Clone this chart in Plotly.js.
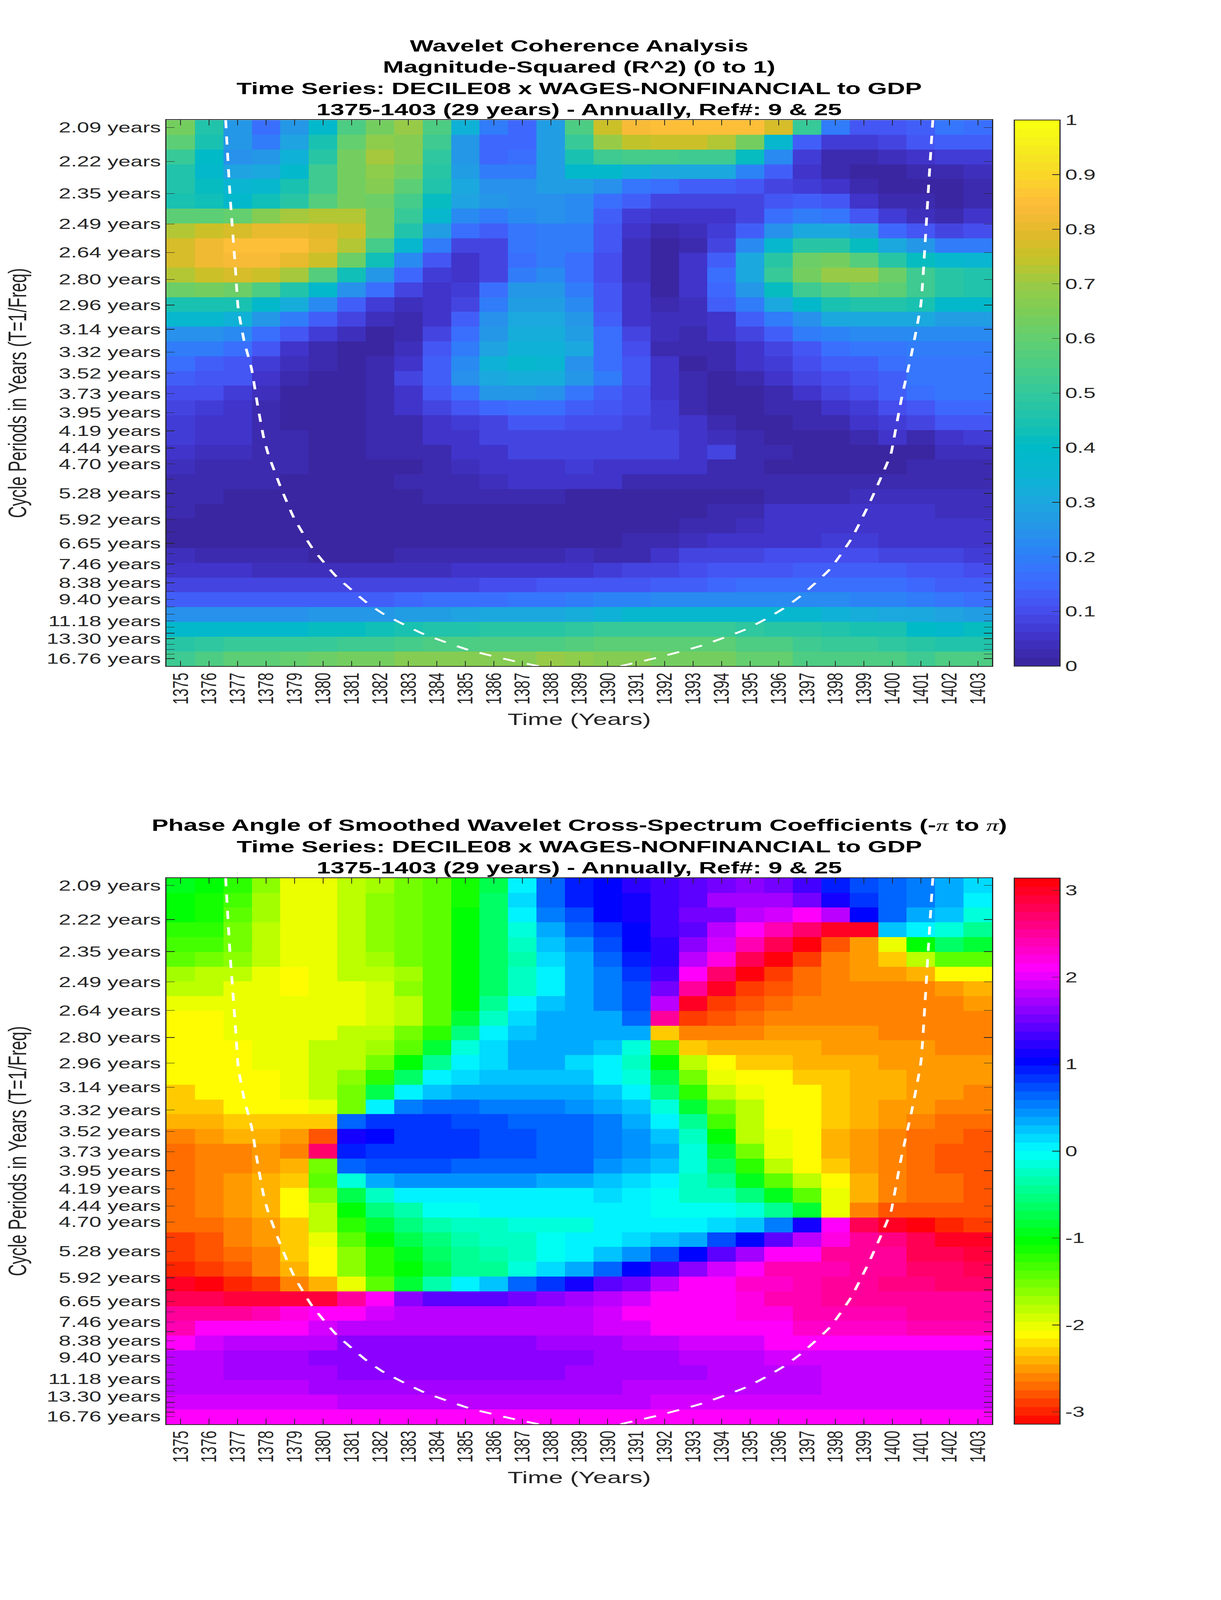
<!DOCTYPE html>
<html>
<head>
<meta charset="utf-8">
<script src="https://cdn.plot.ly/plotly-3.0.1.min.js"></script>
<style>
  html, body { margin: 0; padding: 0; background: #fff; overflow: hidden; }
</style>
</head>
<body>
<div id="chart" style="width:3125px;height:6252px;transform-origin:0 0"></div>
<script>
const years = [1375,1376,1377,1378,1379,1380,1381,1382,1383,1384,1385,1386,1387,1388,1389,1390,1391,1392,1393,1394,1395,1396,1397,1398,1399,1400,1401,1402,1403];

// rows of the heatmaps, 2.09 years at the top, 16.76 years at the bottom
const rowIndex = [0,1,2,3,4,5,6,7,8,9,10,11,12,13,14,15,16,17,18,19,20,21,22,23,24,25,26,27,28,29,30,31,32,33,34,35,36];

// the period ticks do not sit on the row centres, so they are given in row units
const periodTicks = [0,2.31,4.48,6.54,8.47,10.3,12.04,13.68,15.22,16.66,18.04,19.33,20.56,21.72,22.8,23.83,24.79,25.71,26.58,27.4,28.18,28.89,29.58,30.23,30.85,31.42,31.97,32.49,32.99,33.44,33.86,34.27,34.64,35.02,35.36,35.68,35.99];
const periodLabels = ["2.09 years","2.22 years","2.35 years","2.49 years","2.64 years","2.80 years","2.96 years","3.14 years","3.32 years","3.52 years","3.73 years","3.95 years","4.19 years","4.44 years","4.70 years","","5.28 years","","5.92 years","","6.65 years","","7.46 years","","8.38 years","","9.40 years","","","11.18 years","","","13.30 years","","","","16.76 years"];

const coherence = [
  [.64,.46,.25,.17,.25,.38,.55,.64,.69,.56,.33,.19,.15,.28,.56,.76,.83,.85,.85,.85,.85,.78,.5,.2,.11,.11,.14,.18,.17],
  [.58,.44,.25,.2,.29,.44,.6,.68,.66,.52,.26,.15,.15,.28,.5,.7,.74,.76,.76,.73,.64,.36,.13,.07,.07,.09,.11,.13,.13],
  [.5,.4,.24,.25,.33,.48,.64,.71,.67,.49,.26,.15,.17,.28,.44,.52,.54,.54,.52,.52,.41,.22,.07,.03,.03,.04,.05,.07,.07],
  [.46,.39,.29,.31,.38,.52,.64,.68,.64,.47,.27,.19,.2,.28,.38,.39,.34,.31,.31,.3,.21,.13,.05,.02,.01,.01,.02,.03,.04],
  [.46,.42,.35,.37,.45,.53,.64,.66,.58,.46,.3,.24,.24,.27,.28,.24,.18,.16,.14,.14,.12,.09,.07,.05,.02,.01,.01,.01,.02],
  [.44,.43,.39,.43,.47,.57,.63,.61,.54,.41,.29,.25,.24,.24,.22,.17,.13,.09,.08,.08,.09,.11,.13,.11,.05,.03,.02,.01,.02],
  [.58,.58,.6,.66,.71,.73,.72,.64,.51,.36,.23,.19,.23,.24,.22,.14,.07,.05,.05,.05,.09,.17,.2,.18,.12,.07,.04,.03,.05],
  [.73,.76,.77,.8,.8,.79,.75,.64,.46,.28,.16,.13,.18,.2,.19,.11,.06,.03,.04,.07,.14,.24,.31,.31,.27,.15,.11,.09,.1],
  [.78,.82,.85,.85,.85,.81,.73,.54,.36,.2,.09,.08,.18,.2,.19,.11,.04,0,.03,.09,.22,.37,.47,.48,.42,.31,.25,.2,.2],
  [.78,.82,.84,.84,.8,.75,.61,.43,.23,.11,.06,.09,.16,.2,.17,.1,.04,0,.05,.14,.3,.47,.62,.64,.57,.48,.41,.37,.35],
  [.73,.76,.78,.76,.71,.57,.43,.25,.15,.07,.05,.08,.2,.22,.17,.1,.04,0,.06,.16,.31,.5,.64,.7,.7,.62,.53,.48,.46],
  [.61,.63,.61,.55,.46,.38,.24,.16,.09,.05,.07,.16,.25,.25,.19,.11,.06,.01,.05,.15,.25,.41,.53,.57,.6,.58,.53,.47,.46],
  [.45,.45,.44,.38,.32,.22,.14,.07,.04,.05,.09,.2,.27,.28,.22,.12,.06,.03,.04,.13,.2,.3,.38,.44,.46,.46,.44,.39,.38],
  [.36,.36,.34,.25,.19,.13,.08,.04,.02,.05,.14,.24,.31,.31,.26,.14,.06,.04,.04,.05,.13,.2,.24,.3,.31,.31,.31,.28,.27],
  [.24,.24,.23,.17,.12,.07,.04,.01,.03,.08,.17,.26,.32,.32,.27,.16,.08,.04,.03,.05,.09,.13,.19,.21,.23,.23,.23,.22,.22],
  [.19,.19,.17,.12,.05,.03,0,0,.04,.11,.19,.29,.34,.34,.3,.16,.1,.03,.02,.02,.05,.09,.12,.16,.18,.18,.19,.19,.19],
  [.16,.14,.12,.07,.04,.02,.01,.02,.06,.13,.23,.33,.37,.35,.24,.17,.11,.05,.01,.02,.05,.07,.1,.13,.13,.16,.18,.18,.18],
  [.14,.12,.11,.06,.02,.01,.01,.03,.08,.14,.24,.3,.32,.32,.25,.19,.11,.06,.02,.01,.03,.05,.08,.1,.12,.14,.18,.18,.18],
  [.1,.1,.07,.04,.01,.01,.01,.03,.06,.12,.17,.25,.25,.24,.18,.14,.1,.06,.03,.01,.01,.03,.05,.08,.1,.13,.17,.18,.18],
  [.09,.07,.05,.03,.01,.01,.01,.03,.05,.08,.12,.15,.17,.17,.13,.11,.1,.07,.03,.01,.01,.03,.03,.06,.07,.1,.12,.15,.15],
  [.07,.06,.05,.03,.01,.01,.01,.02,.03,.06,.07,.09,.11,.11,.1,.1,.09,.07,.05,.02,.01,.01,.03,.03,.05,.07,.09,.11,.11],
  [.07,.05,.05,.03,.02,.01,.01,.02,.02,.05,.06,.08,.09,.09,.09,.09,.09,.08,.06,.04,.03,.01,.01,.01,.02,.05,.03,.05,.07],
  [.05,.04,.04,.03,.02,.01,.01,.02,.02,.03,.05,.06,.08,.08,.08,.09,.09,.08,.06,.08,.03,.02,0,0,0,.01,.01,.04,.04],
  [.04,.03,.03,.03,.02,.01,.01,.01,.01,.03,.04,.05,.06,.06,.07,.06,.06,.05,.05,.03,.02,0,0,0,0,.01,.02,.02,.03],
  [.03,.02,.02,.02,.01,.01,.01,.01,.02,.02,.03,.04,.05,.05,.05,.05,.03,.03,.02,.02,.02,.02,.02,.02,.03,.03,.03,.03,.03],
  [.02,.02,.01,.01,.01,.01,.01,.01,.01,.02,.02,.02,.03,.03,.01,.01,.01,.01,.01,.01,.01,.03,.03,.03,.04,.04,.04,.04,.04],
  [.02,.01,.01,0,0,0,0,0,0,0,0,0,0,0,0,0,0,0,.01,.02,.03,.05,.05,.05,.05,.05,.05,.04,.04],
  [.01,.01,0,0,0,0,0,0,0,0,0,0,0,0,0,0,.01,.01,.02,.02,.04,.05,.05,.06,.06,.06,.06,.05,.05],
  [.01,.01,.01,0,0,0,0,0,0,0,0,0,0,0,.01,.01,.02,.03,.04,.05,.05,.06,.06,.07,.07,.06,.06,.05,.05],
  [.04,.03,.02,.02,.02,.01,.01,.01,.02,.02,.02,.02,.03,.03,.04,.03,.03,.05,.08,.08,.09,.1,.1,.1,.1,.09,.09,.09,.07],
  [.05,.05,.05,.04,.04,.04,.04,.04,.04,.04,.05,.05,.06,.06,.06,.07,.08,.09,.1,.11,.12,.12,.13,.13,.13,.13,.12,.11,.1],
  [.08,.08,.08,.08,.08,.08,.08,.08,.08,.09,.09,.1,.1,.11,.12,.12,.12,.13,.14,.15,.16,.17,.16,.16,.16,.16,.15,.14,.13],
  [.13,.13,.13,.13,.13,.13,.13,.14,.15,.16,.17,.17,.18,.18,.19,.21,.21,.22,.22,.22,.22,.22,.22,.22,.21,.21,.2,.18,.17],
  [.24,.24,.24,.24,.24,.25,.25,.26,.27,.28,.29,.3,.3,.31,.32,.33,.37,.37,.37,.37,.37,.37,.37,.33,.32,.31,.3,.29,.27],
  [.39,.39,.39,.39,.39,.41,.41,.43,.44,.46,.46,.47,.47,.48,.49,.5,.5,.5,.5,.5,.49,.47,.47,.46,.44,.44,.4,.39,.41],
  [.47,.49,.5,.5,.51,.51,.53,.53,.54,.55,.56,.56,.56,.56,.57,.58,.58,.58,.58,.58,.55,.55,.53,.51,.5,.49,.48,.46,.46],
  [.53,.55,.58,.58,.6,.61,.64,.64,.67,.67,.67,.67,.67,.7,.68,.67,.66,.64,.64,.64,.6,.6,.55,.55,.55,.55,.53,.55,.55],
];

const phase = [
  [-.9,-1,-1.22,-1.63,-1.97,-1.97,-1.86,-1.7,-1.57,-1.38,-1.15,-.7,0,.59,.92,1.05,1.25,1.31,1.38,1.5,1.63,1.54,1.31,.98,.73,.59,.5,.39,.12],
  [-1,-1.1,-1.33,-1.75,-1.97,-1.97,-1.86,-1.63,-1.57,-1.38,-1.15,-.66,.12,.59,.92,1.05,1.15,1.31,1.38,1.7,1.75,1.75,1.5,1.17,.85,.59,.5,.32,0],
  [-1,-1.1,-1.38,-1.75,-1.97,-1.97,-1.86,-1.63,-1.57,-1.38,-1.05,-.6,0,.52,.73,1.05,1.15,1.31,1.5,1.57,1.83,1.96,2.09,1.77,1.05,.59,.39,.23,-.12],
  [-1.27,-1.27,-1.5,-1.86,-1.97,-1.97,-1.86,-1.63,-1.57,-1.38,-1.05,-.6,-.12,.32,.59,.79,1.05,1.31,1.46,1.83,2.09,2.4,2.68,2.95,3,.23,.08,-.12,-.46],
  [-1.33,-1.33,-1.5,-1.86,-1.97,-1.97,-1.86,-1.63,-1.57,-1.38,-1.05,-.6,-.26,.23,.46,.73,1.05,1.2,1.63,1.9,2.4,2.82,3.14,-2.8,-2.46,-1.97,-1.05,-.6,-.85],
  [-1.44,-1.5,-1.63,-1.83,-1.97,-1.97,-1.86,-1.75,-1.5,-1.38,-1.05,-.6,-.33,.12,.32,.59,.92,1.2,1.77,2.2,2.75,3.14,-2.85,-2.56,-2.46,-2.26,-1.86,-1.38,-1.38],
  [-1.68,-1.78,-1.86,-1.97,-2.09,-1.97,-1.86,-1.78,-1.68,-1.44,-1.05,-.6,-.2,.08,.32,.5,.88,1.35,2.09,2.68,3.14,-2.85,-2.68,-2.56,-2.46,-2.46,-2.36,-2.15,-2.09],
  [-1.86,-1.86,-1.97,-1.97,-2.09,-1.97,-1.97,-1.9,-1.63,-1.44,-1.05,-.66,-.2,.08,.32,.5,.77,1.5,2.55,3,-2.93,-2.75,-2.68,-2.56,-2.56,-2.56,-2.56,-2.46,-2.36],
  [-1.97,-1.97,-1.97,-1.97,-1.97,-1.97,-1.97,-1.9,-1.78,-1.44,-1.05,-.46,0,.28,.35,.5,.77,1.83,3,-2.93,-2.75,-2.68,-2.56,-2.56,-2.56,-2.56,-2.56,-2.56,-2.46],
  [-2.09,-2.09,-1.97,-1.97,-1.97,-1.97,-1.97,-1.9,-1.78,-1.44,-.79,-.2,.12,.32,.39,.39,.59,2.55,-2.93,-2.75,-2.68,-2.56,-2.56,-2.56,-2.56,-2.56,-2.56,-2.56,-2.56],
  [-2.09,-2.09,-1.97,-1.97,-1.97,-1.97,-1.86,-1.78,-1.57,-1.2,-.52,0,.28,.32,.32,.32,.32,-2.3,-2.56,-2.56,-2.56,-2.46,-2.46,-2.46,-2.46,-2.56,-2.56,-2.56,-2.56],
  [-2.15,-2.09,-2.09,-1.97,-1.97,-1.86,-1.78,-1.7,-1.38,-.79,-.18,.12,.32,.32,.32,.23,-.12,-1.38,-2.26,-2.36,-2.36,-2.36,-2.36,-2.46,-2.46,-2.46,-2.46,-2.56,-2.56],
  [-2.15,-2.09,-2.09,-1.97,-1.97,-1.86,-1.78,-1.5,-1.05,-.46,0,.18,.32,.32,.18,.08,-.26,-1.05,-1.86,-2.15,-2.26,-2.26,-2.36,-2.36,-2.36,-2.46,-2.46,-2.46,-2.46],
  [-2.15,-2.15,-2.09,-2.09,-1.97,-1.86,-1.63,-1.27,-.66,0,.18,.28,.28,.28,.23,.08,-.12,-.72,-1.5,-1.97,-2.15,-2.15,-2.26,-2.26,-2.36,-2.36,-2.46,-2.46,-2.46],
  [-2.26,-2.15,-2.09,-2.09,-1.97,-1.86,-1.5,-.72,0,.28,.39,.39,.39,.39,.32,.23,0,-.52,-1.27,-1.78,-1.97,-2.15,-2.15,-2.26,-2.36,-2.36,-2.46,-2.46,-2.56],
  [-2.26,-2.26,-2.15,-2.15,-2.09,-1.97,-1.5,.08,.52,.59,.59,.52,.52,.52,.46,.32,.23,-.18,-.85,-1.5,-1.86,-2.09,-2.15,-2.26,-2.36,-2.46,-2.46,-2.56,-2.56],
  [-2.36,-2.36,-2.26,-2.26,-2.26,-2.26,.66,.79,.79,.79,.73,.73,.66,.66,.59,.52,.32,.08,-.46,-1.33,-1.86,-2.09,-2.15,-2.26,-2.36,-2.46,-2.6,-2.68,-2.68],
  [-2.56,-2.46,-2.36,-2.36,-2.46,-2.75,1.17,1.05,.85,.79,.79,.73,.73,.66,.66,.52,.46,.23,-.26,-1.05,-1.78,-1.97,-2.15,-2.36,-2.46,-2.56,-2.68,-2.68,-2.75],
  [-2.68,-2.56,-2.56,-2.46,-2.56,2.68,.98,.85,.85,.79,.79,.73,.73,.66,.66,.52,.46,.32,-.12,-.79,-1.5,-1.97,-2.15,-2.36,-2.46,-2.56,-2.68,-2.75,-2.75],
  [-2.68,-2.56,-2.56,-2.46,-2.36,-1.57,.59,.73,.73,.73,.66,.66,.66,.59,.59,.46,.39,.23,-.12,-.66,-1.2,-1.78,-2.09,-2.26,-2.46,-2.56,-2.68,-2.75,-2.75],
  [-2.68,-2.56,-2.46,-2.36,-2.26,-1.44,-.12,.35,.42,.42,.42,.42,.42,.39,.39,.23,.12,0,-.2,-.46,-.95,-1.38,-1.86,-2.15,-2.36,-2.56,-2.68,-2.68,-2.75],
  [-2.68,-2.56,-2.46,-2.36,-2.15,-1.63,-.72,-.2,0,.08,.08,.08,.08,.08,.08,.1,0,-.08,-.2,-.26,-.52,-.95,-1.44,-1.97,-2.36,-2.56,-2.68,-2.68,-2.75],
  [-2.68,-2.56,-2.46,-2.36,-2.15,-1.78,-1.05,-.52,-.33,-.08,-.08,0,0,0,0,0,0,-.08,-.08,-.08,-.18,-.46,-.79,-1.97,-2.56,-2.75,-2.75,-2.75,-2.75],
  [-2.68,-2.68,-2.56,-2.46,-2.26,-1.86,-1.27,-.79,-.52,-.33,-.2,-.2,-.15,-.15,-.15,0,0,0,.08,.18,.28,.5,1.17,2.15,2.82,3,3.14,-3,-2.93],
  [-2.85,-2.75,-2.56,-2.46,-2.26,-1.97,-1.44,-1.05,-.72,-.52,-.33,-.26,-.2,-.08,0,0,.12,.23,.39,.73,1.05,1.44,1.83,2.2,2.55,2.62,2.82,2.95,3],
  [-2.93,-2.75,-2.68,-2.56,-2.26,-2.09,-1.63,-1.2,-.95,-.66,-.46,-.36,-.2,-.08,0,.23,.46,.73,1.05,1.44,1.73,2.09,2.09,2.48,2.48,2.55,2.75,2.82,2.88],
  [-3,-2.93,-2.75,-2.56,-2.36,-2.09,-1.63,-1.27,-1.05,-.72,-.46,-.46,-.15,.12,.32,.59,1.05,1.31,1.62,1.9,2.09,2.38,2.45,2.45,2.48,2.55,2.68,2.68,2.75],
  [3,3.14,-3,-2.85,-2.6,-2.36,-1.97,-1.38,-.79,-.33,0,.28,.59,.85,1.17,1.38,1.57,1.83,2.12,2.12,2.27,2.27,2.4,2.55,2.55,2.62,2.62,2.68,2.68],
  [2.82,2.82,2.88,2.88,2.88,2.85,2.55,2.09,1.63,1.44,1.44,1.44,1.5,1.6,1.7,1.83,1.96,2.09,2.13,2.13,2.2,2.45,2.45,2.48,2.48,2.48,2.48,2.55,2.55],
  [2.48,2.48,2.48,2.42,2.2,2.12,2.09,1.96,1.86,1.77,1.77,1.77,1.77,1.83,1.83,1.96,2.09,2.09,2.13,2.13,2.25,2.25,2.4,2.4,2.4,2.4,2.48,2.48,2.48],
  [2.38,2.12,2.12,2.12,2.12,1.93,1.86,1.86,1.77,1.77,1.77,1.77,1.77,1.84,1.86,1.92,1.94,2.13,2.13,2.13,2.13,2.13,2.27,2.27,2.27,2.27,2.4,2.4,2.4],
  [2.09,1.92,1.83,1.83,1.77,1.77,1.66,1.66,1.66,1.66,1.66,1.66,1.66,1.73,1.73,1.73,1.82,1.82,1.88,1.88,1.88,2.09,2.09,2.09,2.09,2.09,2.09,2.09,2.09],
  [1.77,1.77,1.73,1.73,1.73,1.63,1.63,1.63,1.63,1.63,1.63,1.63,1.63,1.63,1.63,1.7,1.7,1.7,1.8,1.8,1.8,1.95,1.95,1.95,1.95,1.95,1.95,1.95,1.95],
  [1.77,1.77,1.73,1.73,1.73,1.73,1.63,1.63,1.63,1.63,1.63,1.63,1.63,1.63,1.7,1.72,1.72,1.72,1.72,1.8,1.8,1.8,1.8,1.95,1.95,1.95,1.95,1.95,1.95],
  [1.8,1.8,1.8,1.8,1.8,1.72,1.72,1.72,1.72,1.72,1.72,1.72,1.72,1.72,1.72,1.72,1.82,1.82,1.82,1.82,1.82,1.82,1.82,1.95,1.95,1.95,1.95,1.95,1.95],
  [1.92,1.92,1.92,1.92,1.92,1.92,1.83,1.83,1.83,1.83,1.83,1.83,1.83,1.83,1.83,1.83,1.83,1.96,1.96,1.96,1.96,1.96,1.96,1.96,1.96,1.96,1.96,1.96,1.96],
  [2.09,2.09,2.09,2.09,2.09,2.09,2.09,2.09,2.09,2.09,2.09,2.09,2.09,2.09,2.09,2.09,2.09,2.09,2.09,2.09,2.09,2.09,2.09,2.09,2.09,2.09,2.09,2.09,2.09],
];

// cone of influence
const coiYears = [1376.58,1376.73,1376.92,1377.02,1377.23,1377.49,1377.7,1377.91,1378.07,1378.49,1378.97,1379.6,1380.44,1381.52,1382.12,1383.54,1385.11,1386.74,1387.58,null,1390.45,1391.71,1393.28,1394.81,1395.54,1396.17,1396.78,1397.8,1398.54,1399.17,1399.59,1399.95,1400.06,1400.32,1400.67,1401,1401.16,1401.29,1401.42];
const coiRows = [-0.5,4.52,9.5,12.27,14.48,16.36,18.8,20.96,22.1,24.27,26.42,28.44,30.37,32.17,32.96,34.33,35.4,36.17,36.5,null,36.5,35.94,35.12,34.04,33.32,32.6,31.74,29.94,27.93,25.56,23.76,22.1,21.03,18.37,15.36,11.99,7.5,3.42,-0.5];

const coherenceTicks = [0,0.1,0.2,0.3,0.4,0.5,0.6,0.7,0.8,0.9,1];
const coherenceTickText = ["0","0.1","0.2","0.3","0.4","0.5","0.6","0.7","0.8","0.9","1"];
const phaseTicks = [-3,-2,-1,0,1,2,3];
const phaseTickText = ["-3","-2","-1","0","1","2","3"];

const coherenceTitle = "Wavelet Coherence Analysis<br>Magnitude-Squared (R^2) (0 to 1)<br>Time Series: DECILE08 x WAGES-NONFINANCIAL to GDP<br>1375-1403 (29 years) - Annually, Ref#: 9 & 25";
const piGlyph = "<span style=\"font-family:'Liberation Serif';font-style:italic;font-weight:normal\">π</span>";
const phaseTitle = "Phase Angle of Smoothed Wavelet Cross-Spectrum Coefficients (-" + piGlyph + " to " + piGlyph + ")<br>Time Series: DECILE08 x WAGES-NONFINANCIAL to GDP<br>1375-1403 (29 years) - Annually, Ref#: 9 & 25";

// anchors of the blue to yellow map, one every 0.05
const coherenceAnchors = ["#3a26a1","#4035cc","#4650f0","#3d6cff","#2d80f8","#2596e8","#1ca8de","#0ab5d2","#00bac6","#1cc2ae","#33c89c","#4acc85","#62cf70","#7ccd58","#98cb46","#c5c228","#e3b92a","#fdbc3a","#fad42a","#f5ea20","#f9ff10"];

const W = 3125;
const H = 6252;
const textColor = "#262626";
const fontFamily = "'Liberation Sans', Arial, sans-serif";
const tickSize = 56;
const labelSize = 65;
const levels = 64;

// the window can be shorter than the chart, squeeze the height so both plots stay on the page
const fitY = Math.min(1, window.innerHeight / H);
document.getElementById("chart").style.transform = `scale(1, ${fitY})`;

const hexToRgb = (hex) => [1, 3, 5].map((i) => parseInt(hex.slice(i, i + 2), 16));

// stepped colorscale with the 64 bands of the original colorbar
const steppedScale = (colorAt) => {
  const scale = [];
  for (let i = 0; i < levels; i++) {
    const c = colorAt(i / (levels - 1), (i + 0.5) / levels);
    scale.push([i / levels, c], [(i + 1) / levels, c]);
  }
  return scale;
};

const coherenceScale = steppedScale((t) => {
  const pos = t * (coherenceAnchors.length - 1);
  const k = Math.min(Math.floor(pos), coherenceAnchors.length - 2);
  const a = hexToRgb(coherenceAnchors[k]);
  const b = hexToRgb(coherenceAnchors[k + 1]);
  const mix = a.map((v, j) => Math.round(v + (b[j] - v) * (pos - k)));
  return `rgb(${mix.join(",")})`;
});

const phaseScale = steppedScale((_, hue) => {
  const h = hue * 6;
  const f = h - Math.floor(h);
  const seg = Math.floor(h) % 6;
  const up = Math.round(255 * f);
  const down = Math.round(255 * (1 - f));
  const rgb = [[255, up, 0], [down, 255, 0], [0, 255, up], [0, down, 255], [up, 0, 255], [255, 0, down]][seg];
  return `rgb(${rgb.join(",")})`;
});

const heatmapTrace = (z, xaxis, yaxis, scale, zmin, zmax, cbY, ticks, tickText) => ({
  type: "heatmap",
  x: years,
  y: rowIndex,
  z: z,
  xaxis: xaxis,
  yaxis: yaxis,
  zmin: zmin,
  zmax: zmax,
  colorscale: scale,
  colorbar: {
    x: 2596 / W,
    xanchor: "left",
    xpad: 0,
    y: cbY,
    yanchor: "middle",
    ypad: 0,
    thickness: 117,
    thicknessmode: "pixels",
    len: 2134,
    lenmode: "pixels",
    outlinecolor: textColor,
    outlinewidth: 3,
    ticks: "inside",
    ticklen: 21,
    tickwidth: 2,
    tickcolor: textColor,
    tickmode: "array",
    tickvals: ticks,
    ticktext: tickText,
    tickfont: { family: fontFamily, size: tickSize, color: textColor },
  },
});

const coiTrace = (xaxis, yaxis) => ({
  type: "scatter",
  mode: "lines",
  x: coiYears,
  y: coiRows,
  xaxis: xaxis,
  yaxis: yaxis,
  showlegend: false,
  hoverinfo: "skip",
  line: { color: "#ffffff", width: 7, dash: "32px,32px", shape: "spline", smoothing: 0.5 },
});

const xAxis = (domainAnchor) => ({
  domain: [426 / W, 2539 / W],
  anchor: domainAnchor,
  range: [1374.5, 1403.5],
  tickmode: "array",
  tickvals: years,
  ticktext: years.map(String),
  tickangle: -90,
  tickfont: { family: fontFamily, size: tickSize, color: textColor },
  ticks: "inside",
  ticklen: 21,
  tickwidth: 2,
  tickcolor: textColor,
  showline: true,
  linecolor: textColor,
  linewidth: 3,
  mirror: "allticks",
  showgrid: false,
  zeroline: false,
  title: { text: "Time (Years)", font: { family: fontFamily, size: labelSize, color: textColor }, standoff: 36 },
});

const yAxis = (top, domainAnchor) => ({
  domain: [(H - top - 2134) / H, (H - top) / H],
  anchor: domainAnchor,
  range: [36.5, -0.5],
  tickmode: "array",
  tickvals: periodTicks,
  ticktext: periodLabels,
  tickfont: { family: fontFamily, size: tickSize, color: textColor },
  ticks: "inside",
  ticklen: 21,
  tickwidth: 2,
  tickcolor: textColor,
  showline: true,
  linecolor: textColor,
  linewidth: 3,
  mirror: "allticks",
  showgrid: false,
  zeroline: false,
  title: { text: "Cycle Periods in Years (T=1/Freq)", font: { family: fontFamily, size: labelSize, color: textColor }, standoff: 31 },
});

const titleNote = (text, top) => ({
  text: "<b>" + text.split("<br>").join("</b><br><b>") + "</b>",
  xref: "paper",
  yref: "paper",
  x: 1482 / W,
  xanchor: "center",
  y: (H - top + 2) / H,
  yanchor: "bottom",
  showarrow: false,
  align: "center",
  font: { family: fontFamily, size: 64, color: "#000000" },
});

const data = [
  heatmapTrace(coherence, "x", "y", coherenceScale, 0, 1, (H - 469 - 1067) / H, coherenceTicks, coherenceTickText),
  coiTrace("x", "y"),
  heatmapTrace(phase, "x2", "y2", phaseScale, -Math.PI, Math.PI, (H - 3431 - 1067) / H, phaseTicks, phaseTickText),
  coiTrace("x2", "y2"),
];

const layout = {
  width: W,
  height: H,
  margin: { l: 0, r: 0, t: 0, b: 0, autoexpand: false },
  paper_bgcolor: "#ffffff",
  plot_bgcolor: "#ffffff",
  showlegend: false,
  xaxis: xAxis("y"),
  yaxis: yAxis(469, "x"),
  xaxis2: xAxis("y2"),
  yaxis2: yAxis(3431, "x2"),
  annotations: [titleNote(coherenceTitle, 469), titleNote(phaseTitle, 3431)],
};

Plotly.newPlot("chart", data, layout, { displayModeBar: false, staticPlot: true });
</script>
</body>
</html>
